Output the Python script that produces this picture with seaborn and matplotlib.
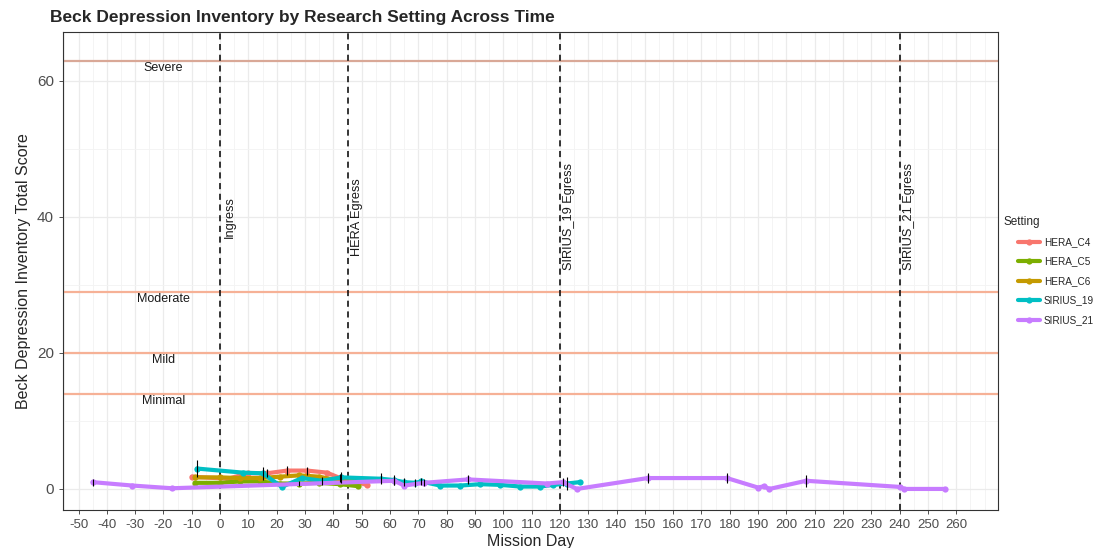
#!/usr/bin/env python

import numpy as np
import pandas as pd
import seaborn as sns
from matplotlib import pyplot as plt
from matplotlib.ticker import MultipleLocator

# mission day / mean BDI score / error half-width per setting
c4_day = [-10, 2.8, 9.9, 16.5, 23.7, 30.7, 37.7, 42.4, 51.8]
c4_bdi = [1.8, 1.5, 2.3, 2.3, 2.7, 2.7, 2.4, 1.6, 0.6]
c4_err = [0, 0, 0, 0.6, 0.7, 0.6, 0, 0.6, 0]

c5_day = [-8.8, 0, 7, 14, 21, 28, 35, 42.4, 48.8]
c5_bdi = [0.9, 0.9, 1.1, 1.1, 0.8, 0.8, 0.9, 0.7, 0.4]
c5_err = [0, 0, 0, 0, 0, 0.4, 0, 0, 0]

c6_day = [-8.8, 0, 7, 14, 21, 28, 35, 42.4, 49.5]
c6_bdi = [1.7, 1.7, 1.6, 1.6, 1.8, 2.0, 1.8, 1.2, 1.2]
c6_err = [0, 0, 0, 0, 0, 0, 0, 0, 0]

s19_day = [-8.2, 8, 15, 21.8, 28.9, 36, 42.8, 56.8, 61.5, 65, 69, 71,
           77.7, 84.8, 91.9, 99, 106, 113, 117.7, 122.5, 127]
s19_bdi = [3.0, 2.4, 2.3, 0.3, 1.6, 1.2, 1.7, 1.5, 1.3, 1.0, 0.9, 1.1,
           0.5, 0.5, 0.7, 0.6, 0.35, 0.35, 0.6, 0.8, 1.0]
s19_err = [1.2, 0, 1.0, 0, 0, 0.6, 0.8, 0.8, 0.7, 0.6, 0.6, 0.5,
           0, 0, 0, 0, 0, 0, 0, 0.9, 0]

s21_day = [-45, -31, -17, 61.5, 65, 72, 87.6, 115.5, 121, 126, 151, 179,
           190, 192, 194, 207, 240, 241.5, 256]
s21_bdi = [1.0, 0.5, 0.1, 1.2, 0.5, 0.9, 1.4, 0.8, 1.0, 0.0, 1.6, 1.6,
           0.2, 0.4, 0.0, 1.2, 0.3, 0.0, 0.0]
s21_err = [0.5, 0, 0, 0.6, 0, 0.5, 0.6, 0, 0.6, 0, 0.75, 0.75,
           0, 0, 0, 0.9, 0, 0, 0]

settings = ['HERA_C4', 'HERA_C5', 'HERA_C6', 'SIRIUS_19', 'SIRIUS_21']
colors = ['#F8766D', '#7CAE00', '#C49A00', '#00BFC4', '#C77CFF']

cutoffs = [63, 29, 20, 14]
cutoff_labels = ['Severe', 'Moderate', 'Mild', 'Minimal']
cutoff_colors = ['#D9A897', '#F6B196', '#F6B196', '#F6B196']

events = [0, 45, 120, 240]
event_labels = ['Ingress', 'HERA Egress', 'SIRIUS_19 Egress', 'SIRIUS_21 Egress']

table = []
for name, days, bdi, err in zip(settings,
                                [c4_day, c5_day, c6_day, s19_day, s21_day],
                                [c4_bdi, c5_bdi, c6_bdi, s19_bdi, s21_bdi],
                                [c4_err, c5_err, c6_err, s19_err, s21_err]):
    for d, b, e in zip(days, bdi, err):
        table.append([name, d, b, e])

df = pd.DataFrame(table, columns=['Setting', 'day', 'bdi', 'err'])

sns.set_style("white")
plt.rcParams['font.family'] = ['Liberation Sans', 'DejaVu Sans']
plt.rcParams['axes.unicode_minus'] = False

fig = plt.figure(figsize=(10.93, 5.48), dpi=100)
ax = fig.add_axes([0.0576, 0.0693, 0.8554, 0.8723])

ax.xaxis.set_major_locator(MultipleLocator(10))
ax.xaxis.set_minor_locator(MultipleLocator(5))
ax.yaxis.set_major_locator(MultipleLocator(20))
ax.yaxis.set_minor_locator(MultipleLocator(10))
ax.grid(which='major', color='#EBEBEB', linewidth=0.9)
ax.grid(which='minor', color='#F3F3F3', linewidth=0.6)
ax.set_axisbelow(True)

for yv, lab, col in zip(cutoffs, cutoff_labels, cutoff_colors):
    ax.axhline(yv, color=col, linewidth=1.6, zorder=1)
    ax.text(-20, yv - 1.1, lab, ha='center', va='center', fontsize=9,
            color='#1a1a1a')

for xv, lab in zip(events, event_labels):
    ax.axvline(xv, color='black', linestyle=(0, (4, 3)), linewidth=1.1, zorder=2)
    ax.text(xv + 3.3, 40, lab, rotation=90, ha='center', va='center',
            fontsize=9.2, color='#1a1a1a')

palette = dict(zip(settings, colors))
sns.lineplot(data=df, x='day', y='bdi', hue='Setting', hue_order=settings,
             palette=palette, estimator=None, errorbar=None, linewidth=3,
             marker='o', markersize=4.5, markeredgewidth=0, ax=ax, zorder=3)

eb = df[df['err'] > 0]
ax.errorbar(eb['day'], eb['bdi'], yerr=eb['err'], fmt='none', ecolor='black',
            elinewidth=0.8, capsize=0, zorder=4)

ax.set_xlim(-55.5, 274.7)
ax.set_ylim(-3.1, 67.2)
ax.set_xticks(np.arange(-50, 261, 10))

ax.tick_params(axis='x', which='major', labelsize=9.5, colors='#333333',
               labelcolor='#4D4D4D', length=3, width=0.6, direction='out', bottom=True)
ax.tick_params(axis='y', which='major', labelsize=11, colors='#333333',
               labelcolor='#4D4D4D', length=3, width=0.6, direction='out', left=True)
ax.tick_params(which='minor', length=0)

for s in ax.spines.values():
    s.set_color('#333333')
    s.set_linewidth(0.8)

ax.set_xlabel('Mission Day', fontsize=11.5, labelpad=2)
ax.set_ylabel('Beck Depression Inventory Total Score', fontsize=11.5, labelpad=4)
fig.text(0.046, 0.968, 'Beck Depression Inventory by Research Setting Across Time',
         fontsize=12.5, fontweight='bold', ha='left', va='center')

handles, labels = ax.get_legend_handles_labels()
fig.text(1003 / 1093, 1 - 222 / 548, 'Setting', fontsize=8.5, ha='left', va='center')
leg = fig.legend(handles, labels, loc='upper left',
                 bbox_to_anchor=(1018 / 1093, 1 - 237 / 548), frameon=False,
                 fontsize=7.2, handlelength=2.2, labelspacing=0.95,
                 handletextpad=0.4, borderaxespad=0, borderpad=0)
ax.get_legend().remove()

plt.savefig('out.png', dpi=100)
